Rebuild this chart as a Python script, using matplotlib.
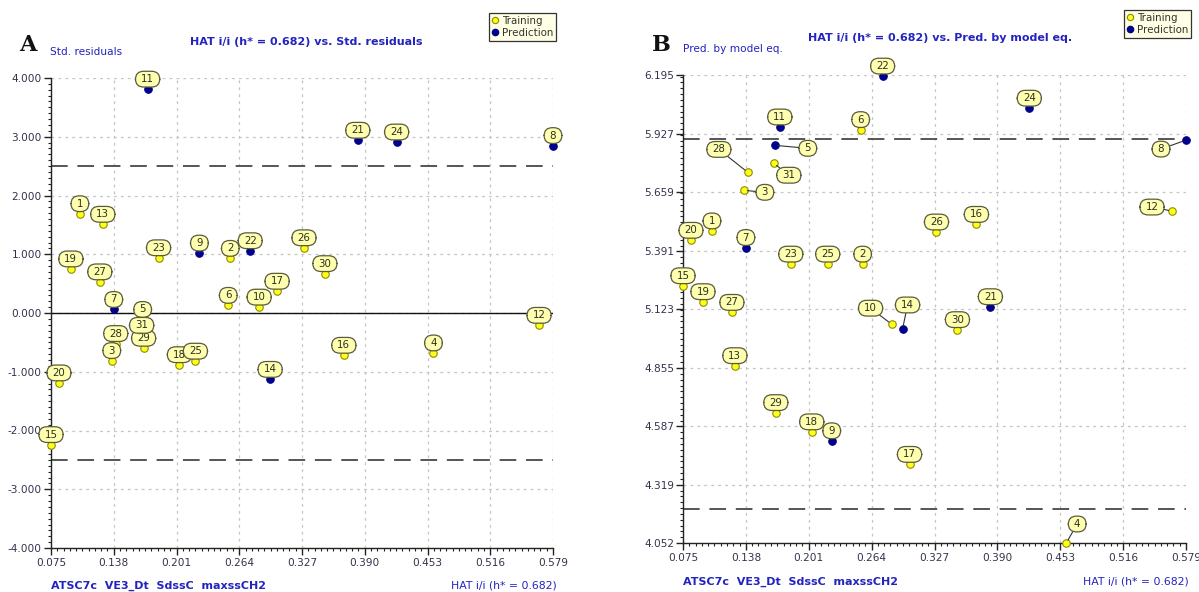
import matplotlib
matplotlib.use("Agg")
import matplotlib.pyplot as plt
import numpy as np
from matplotlib.ticker import AutoMinorLocator, FixedLocator, FixedFormatter
from matplotlib.lines import Line2D
from matplotlib.patches import BoxStyle

# ---------------- data ----------------
ids = list(range(1, 32))
hat = [0.104, 0.255, 0.136, 0.459, 0.167, 0.253, 0.138, 0.579, 0.224, 0.284,
       0.172, 0.565, 0.127, 0.295, 0.075, 0.369, 0.302, 0.204, 0.095, 0.083,
       0.383, 0.275, 0.183, 0.422, 0.220, 0.329, 0.124, 0.140, 0.168, 0.350,
       0.166]
std_resid = [1.69, 0.93, -0.81, -0.68, -0.11, 0.13, 0.06, 2.85, 1.02, 0.10,
             3.81, -0.21, 1.51, -1.13, -2.24, -0.72, 0.37, -0.88, 0.75, -1.19,
             2.94, 1.06, 0.94, 2.91, -0.82, 1.11, 0.53, -0.52, -0.60, 0.67,
             -0.38]
pred_model = [5.481, 5.329, 5.667, 4.052, 5.873, 5.945, 5.405, 5.897, 4.520, 5.054,
              5.957, 5.572, 4.864, 5.032, 5.230, 5.511, 4.412, 4.561, 5.157, 5.438,
              5.134, 6.190, 5.329, 6.043, 5.329, 5.476, 5.108, 5.749, 4.649, 5.029,
              5.791]
prediction_ids = [5, 7, 8, 9, 11, 14, 21, 22, 24]

x_ticks = [0.075, 0.138, 0.201, 0.264, 0.327, 0.390, 0.453, 0.516, 0.579]
x_tick_labels = ["0.075", "0.138", "0.201", "0.264", "0.327", "0.390", "0.453", "0.516", "0.579"]
a_y_ticks = [-4, -3, -2, -1, 0, 1, 2, 3, 4]
a_y_tick_labels = ["-4.000", "-3.000", "-2.000", "-1.000", "0.000", "1.000", "2.000", "3.000", "4.000"]
b_y_ticks = [4.052, 4.319, 4.587, 4.855, 5.123, 5.391, 5.659, 5.927, 6.195]
b_y_tick_labels = ["4.052", "4.319", "4.587", "4.855", "5.123", "5.391", "5.659", "5.927", "6.195"]
a_limit_lines = [-2.5, 2.5]
b_limit_lines = [4.208, 5.904]

descriptors = "ATSC7c  VE3_Dt  SdssC  maxssCH2"
hat_label = "HAT i/i (h* = 0.682)"

# label offsets (pixels) for panel B callouts that are displaced
b_offsets = {5: (33, -3), 8: (-25, -9), 28: (-29, 23), 31: (15, -12), 3: (21, -2),
             12: (-20, 4), 10: (-21, 16), 14: (5, 24), 4: (11, 19)}
std_offset = (0, 10)

# ---------------- style ----------------
W, H = 1199, 592
fig = plt.figure(figsize=(W / 100, H / 100), dpi=100)
plt.rcParams["lines.scale_dashes"] = False

BLUE = "#2323c0"
TICKC = "#33334d"
YEL = "#ffff1a"
YEL_E = "#8c8c00"
NAVY = "#00008c"
BUB_FC = "#ffffb0"
BUB_EC = "#5a5a3c"

_round = BoxStyle.Round(pad=0, rounding_size=0.8)


def bubble(x0, y0, width, height, mutation_size):
    px = 0.55 * mutation_size
    py = 0.28 * mutation_size
    return _round(x0 - px, y0 - py, width + 2 * px, height + 2 * py, mutation_size)


def fx(px):
    return px / W


def fy(py):
    return 1 - py / H


def make_axes(left, right, top, bottom):
    return fig.add_axes([fx(left), fy(bottom), fx(right) - fx(left), fy(top) - fy(bottom)])


def style_axes(ax, yticks, ylabels, ylim):
    ax.set_xlim(x_ticks[0], x_ticks[-1])
    ax.set_ylim(*ylim)
    ax.xaxis.set_major_locator(FixedLocator(x_ticks))
    ax.xaxis.set_major_formatter(FixedFormatter(x_tick_labels))
    ax.yaxis.set_major_locator(FixedLocator(yticks))
    ax.yaxis.set_major_formatter(FixedFormatter(ylabels))
    ax.xaxis.set_minor_locator(AutoMinorLocator(10))
    ax.yaxis.set_minor_locator(AutoMinorLocator(10))
    for s in ["top", "right"]:
        ax.spines[s].set_visible(False)
    for s in ["left", "bottom"]:
        ax.spines[s].set_color("#222222")
        ax.spines[s].set_linewidth(1.0)
    ax.tick_params(which="major", direction="out", length=5, width=1, color="#222222",
                   labelsize=7.6, labelcolor=TICKC, pad=2.5)
    ax.tick_params(which="minor", direction="out", length=2.5, width=0.8, color="#222222")
    ax.tick_params(axis="y", which="major", pad=1.5)
    ax.grid(True, which="major", color="#c4c4c4", linestyle=(0, (2, 3)), linewidth=0.9)
    ax.set_axisbelow(True)
    ax.patch.set_alpha(0)


def draw_points(ax, yvals, offsets):
    for i, x, y in zip(ids, hat, yvals):
        is_pred = i in prediction_ids
        ax.plot([x], [y], "o", ms=5.4, mfc=NAVY if is_pred else YEL,
                mec=NAVY if is_pred else YEL_E, mew=0.8, zorder=3, clip_on=False)
    for i, x, y in zip(ids, hat, yvals):
        off = offsets.get(i, std_offset)
        arrow = None
        if off != std_offset:
            arrow = dict(arrowstyle="-", color="#333333", lw=0.8, shrinkA=0, shrinkB=2.5)
        ax.annotate(str(i), xy=(x, y), xytext=off, textcoords="offset pixels",
                    ha="center", va="center", fontsize=7.4, color="#2e2e1e",
                    bbox=dict(boxstyle=bubble, fc=BUB_FC, ec=BUB_EC, lw=0.9),
                    arrowprops=arrow, zorder=5, annotation_clip=False)


def legend(right, top):
    handles = [Line2D([], [], marker="o", ls="", ms=4.5, mfc=YEL, mec=YEL_E, mew=0.8),
               Line2D([], [], marker="o", ls="", ms=4.5, mfc=NAVY, mec=NAVY)]
    lg = fig.legend(handles, ["Training", "Prediction"], loc="upper right",
                    bbox_to_anchor=(fx(right), fy(top)), bbox_transform=fig.transFigure,
                    fontsize=7.4, frameon=True, fancybox=False, framealpha=1,
                    facecolor="#ffffe6", edgecolor="#333333", borderpad=0.3,
                    handlelength=0.6, handletextpad=0.35, labelspacing=0.15,
                    borderaxespad=0)
    lg.get_frame().set_linewidth(0.9)
    for t in lg.get_texts():
        t.set_color("#33332a")


# ---------------- panel A ----------------
axA = make_axes(51, 553, 78, 548)
style_axes(axA, a_y_ticks, a_y_tick_labels, (-4, 4))
axA.axhline(0, color="#111111", lw=1.0, zorder=2)
for v in a_limit_lines:
    axA.axhline(v, color="#555555", lw=1.4, dashes=(12, 7), zorder=2)
draw_points(axA, std_resid, {})

fig.text(fx(28), fy(45), "A", fontsize=16, fontweight="bold", family="DejaVu Serif",
         ha="center", va="center", color="#111111")
fig.text(fx(50), fy(52), "Std. residuals", fontsize=7.6, color=BLUE, ha="left", va="center")
fig.text(fx(306), fy(42), "HAT i/i (h* = 0.682) vs. Std. residuals", fontsize=8,
         fontweight="bold", color=BLUE, ha="center", va="center")
fig.text(fx(51), fy(586), descriptors, fontsize=8, fontweight="bold", color=BLUE,
         ha="left", va="center")
fig.text(fx(557), fy(586), hat_label, fontsize=7.8, color=BLUE, ha="right", va="center")
legend(556, 13)

# ---------------- panel B ----------------
axB = make_axes(683, 1186, 75, 543)
style_axes(axB, b_y_ticks, b_y_tick_labels, (b_y_ticks[0], b_y_ticks[-1]))
for v in b_limit_lines:
    axB.axhline(v, color="#555555", lw=1.4, dashes=(12, 7), zorder=2)
draw_points(axB, pred_model, b_offsets)

fig.text(fx(661), fy(45), "B", fontsize=16, fontweight="bold", family="DejaVu Serif",
         ha="center", va="center", color="#111111")
fig.text(fx(683), fy(49), "Pred. by model eq.", fontsize=7.6, color=BLUE, ha="left", va="center")
fig.text(fx(940), fy(38), "HAT i/i (h* = 0.682) vs. Pred. by model eq.", fontsize=8,
         fontweight="bold", color=BLUE, ha="center", va="center")
fig.text(fx(683), fy(582), descriptors, fontsize=8, fontweight="bold", color=BLUE,
         ha="left", va="center")
fig.text(fx(1189), fy(581), hat_label, fontsize=7.8, color=BLUE, ha="right", va="center")
legend(1191, 10)

fig.savefig("out.png", dpi=100)
